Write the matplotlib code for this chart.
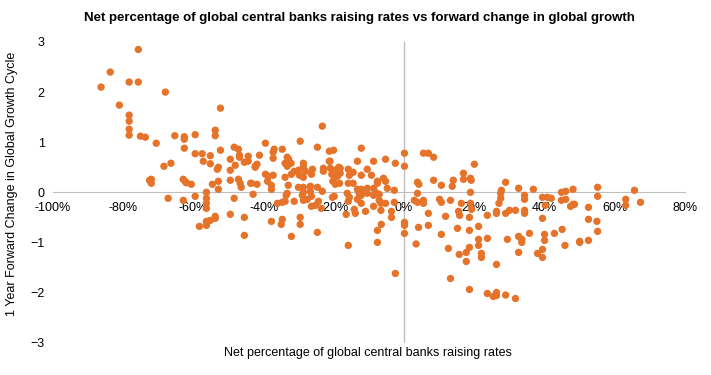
import matplotlib.pyplot as plt
from matplotlib.ticker import FuncFormatter

plt.rcParams['font.family'] = ['Liberation Sans', 'DejaVu Sans']

# net % of central banks raising rates (x, in %) and 1y forward change in growth cycle (y)
pct_raising = [
    -75.7, -83.7, -86.3, -78.3, -75.7, -68.0, -81.1, -78.3, -78.3, -78.3, -78.3, -75.1, -73.7,
    -70.6, -65.3, -66.4, -68.4, -72.0, -72.0, -72.5, -67.2,
    -52.3, -62.6, -62.6, -59.5, -53.8, -53.8, -62.6, -52.3, -59.5, -57.5, -55.2, -57.2, -55.2,
    -52.9, -53.2, -62.9, -62.3, -62.0, -60.6, -54.6, -52.9, -52.9, -49.5, -49.5, -49.5, -48.4,
    -47.2, -46.9, -46.9, -48.1, -45.5, -44.4, -44.4, -47.2, -46.7, -46.4, -43.5, -42.4, -43.0,
    -62.9, -59.5, -56.3, -56.3, -56.3, -56.3, -48.4, -49.5, -45.5, -45.5, -58.3, -56.3, -56.3,
    -55.2, -53.8, -53.8,
    -23.3, -29.6, -39.5, -24.7, -37.0, -34.7, -37.3, -41.2, -37.3, -41.9, -42.4, -33.3, -32.9,
    -33.9, -32.2, -33.3, -28.7, -28.7, -26.1, -21.3, -20.1, -21.3, -23.0, -23.0, -31.3, -30.1,
    -28.1, -32.1, -33.9, -29.8, -28.7, -26.4, -39.5, -38.7, -37.3, -38.9, -37.8, -37.8, -41.9,
    -43.7, -33.0, -30.1, -28.7, -26.7, -24.7, -23.3, -28.7, -26.7, -33.3, -33.6, -29.0, -26.4,
    -27.6, -28.7, -36.1, -34.7, -33.9, -31.3, -26.4, -25.3, -24.4, -23.6, -20.4, -37.8, -34.7,
    -35.0, -29.6, -29.6, -32.1, -24.7,
    -12.2, 0.1, 0.1, -13.3, -8.7, -5.3, -2.5, -21.1, -21.0, -20.0, -19.3, -20.6, -19.7, -19.0,
    -20.3, -19.6, -18.6, -18.2, -18.2, -18.4, -18.4, -19.9, -15.9, -15.6, -14.5, -15.9, -14.5,
    -16.2, -15.6, -15.9, -13.3, -12.2, -12.8, -12.2, -10.5, -12.2, -9.3, -10.5, -10.5, -13.3,
    -12.2, -11.0, -14.2, -13.9, -16.5, -8.7, -8.2, -8.7, -8.7, -7.6, -7.1, -7.1, -6.6, -6.6,
    -7.6, -5.9, -5.3, -4.8, -5.3, -3.6, -3.6, -2.8, -2.8, -6.5, -7.6, -7.6, -15.9, 0.1, 0.1,
    0.1, -2.5,
    5.5, 6.9, 8.4, 20.0, 16.9, 16.9, 18.9, 19.1, 8.4, 14.0, 13.7, 10.6, 3.8, 4.2, 3.8, 18.9,
    2.9, 3.8, 5.5, 5.5, 10.1, 10.6, 13.2, 16.3, 18.9, 19.2, 18.6, 6.9, 11.8, 15.5, 15.8, 23.7,
    6.9, 4.1, 15.2, 18.6, 21.2, 10.6, 21.2, 21.2, 23.7, 3.4, 12.6, 15.7, 17.7, 18.6, 22.0,
    22.0, 17.7, 13.2, 18.6, 23.7, 25.4,
    28.9, 32.6, 36.8, 27.7, 27.5, 27.5, 27.0, 26.3, 26.3, 28.9, 30.0, 31.7, 34.3, 34.3, 34.3,
    34.3, 39.4, 40.8, 41.9, 40.2, 39.4, 44.8, 46.0, 44.8, 46.0, 47.4, 48.1, 48.1, 29.4, 32.6,
    33.5, 33.5, 35.7, 32.6, 38.0, 39.4, 39.4, 40.0, 40.0, 42.8, 45.0, 45.8, 26.3, 26.3, 26.3,
    28.9, 31.7,
    55.1, 55.1, 65.6, 63.1, 63.1, 67.3, 48.5, 52.5, 52.5, 54.9, 55.1, 50.0, 50.0, 52.5,
]
fwd_change = [
    2.85, 2.40, 2.10, 2.20, 2.20, 2.00, 1.74, 1.54, 1.42, 1.26, 1.14, 1.12, 1.10,
    0.98, 1.13, 0.58, 0.52, 0.26, 0.18, 0.24, -0.12,
    1.68, 1.11, 1.06, 1.15, 1.24, 1.13, 0.88, 0.84, 0.77, 0.77, 0.73, 0.62, 0.57,
    0.50, 0.46, 0.26, 0.21, 0.19, 0.16, 0.16, 0.22, 0.06, 0.24, 0.44, 0.66, 0.90,
    0.86, 0.74, 0.70, 0.54, 0.60, 0.72, 0.62, 0.26, 0.18, 0.10, 0.18, 0.52, -0.04,
    -0.16, -0.08, 0.00, -0.12, -0.22, -0.32, -0.12, -0.44, -0.50, -0.86, -0.68, -0.66, -0.58,
    -0.56, -0.52, -0.48,
    1.32, 1.02, 0.98, 0.90, 0.86, 0.86, 0.80, 0.74, 0.68, 0.56, 0.50, 0.70, 0.66,
    0.58, 0.58, 0.52, 0.58, 0.52, 0.46, 0.82, 0.84, 0.62, 0.48, 0.42, 0.42, 0.44,
    0.42, 0.36, 0.30, 0.34, 0.30, 0.36, 0.36, 0.32, 0.34, 0.22, 0.14, 0.06, 0.16,
    0.18, 0.14, 0.10, 0.10, 0.12, 0.10, 0.02, 0.00, 0.02, -0.02, -0.06, -0.06, -0.08,
    -0.14, -0.16, -0.22, -0.20, -0.18, -0.18, -0.28, -0.26, -0.18, -0.32, -0.10, -0.58, -0.54,
    -0.64, -0.50, -0.64, -0.88, -0.80,
    0.88, 0.78, 0.52, 0.62, 0.62, 0.66, 0.58, 0.62, 0.48, 0.42, 0.45, 0.36, 0.30, 0.32,
    0.22, 0.16, 0.50, 0.38, 0.48, 0.38, 0.18, -0.08, 0.46, 0.34, 0.40, 0.18, 0.18,
    -0.02, -0.10, -0.18, 0.06, 0.06, -0.02, -0.06, 0.46, 0.34, 0.34, 0.08, -0.02, -0.14,
    -0.22, -0.38, -0.34, -0.42, -0.44, 0.08, 0.00, -0.06, -0.28, 0.18, -0.04, -0.16, -0.22, -0.36,
    0.22, 0.28, 0.22, 0.08, -0.22, -0.38, -0.50, 0.04, -0.20, -0.64, -0.76, -1.00, -1.06, -0.60, -0.66,
    -0.82, -1.62,
    0.78, 0.78, 0.70, 0.56, 0.38, 0.26, 0.28, 0.24, 0.24, 0.24, 0.12, 0.14, 0.20, 0.16, -0.02, 0.00,
    -0.16, -0.20, -0.16, -0.22, -0.14, -0.20, -0.16, -0.22, -0.22, -0.34, -0.50, -0.42, -0.48, -0.38, -0.46, -0.46,
    -0.66, -0.70, -0.72, -0.76, -0.68, -0.84, -0.94, -1.06, -0.92, -1.03, -1.12, -1.24, -1.20, -1.10, -1.22,
    -1.30, -1.38, -1.72, -1.94, -2.02, -2.08,
    0.20, 0.08, 0.06, 0.04, -0.02, -0.12, -0.22, -0.38, -0.42, -0.42, -0.36, -0.36, -0.06, -0.14, -0.36,
    -0.42, -0.10, -0.10, -0.12, -0.26, -0.52, 0.00, 0.02, -0.16, -0.14, -0.28, 0.06, -0.24, -0.94, -0.88,
    -0.94, -1.00, -0.82, -1.20, -1.22, -1.14, -1.30, -0.84, -0.96, -0.82, -0.74, -1.06, -1.44, -2.00, -2.06,
    -2.05, -2.12,
    0.10, -0.08, 0.04, -0.14, -0.26, -0.20, -0.24, -0.30, -0.54, -0.58, -0.78, -0.98, -1.00, -0.96,
]

fig = plt.figure(figsize=(7.11, 3.75), dpi=100)
ax = fig.add_axes([0.0745, 0.0864, 0.889, 0.8016])

ax.scatter(pct_raising, fwd_change, s=28, color='#E5732A', edgecolors='none', zorder=3)

ax.set_xlim(-100, 80)
ax.set_ylim(-3, 3)
ax.set_xticks(range(-100, 81, 20))
ax.set_yticks(range(-3, 4))
ax.xaxis.set_major_formatter(FuncFormatter(lambda v, p: f'{int(v)}%'))

for s in ['top', 'right', 'left']:
    ax.spines[s].set_visible(False)
ax.spines['bottom'].set_position(('data', 0))
ax.spines['bottom'].set_color('#BFBFBF')
ax.axvline(0, color='#BFBFBF', lw=1, zorder=1)
ax.tick_params(length=0, labelsize=9, colors='#000000')
ax.tick_params(axis='y', pad=6)
ax.tick_params(axis='x', pad=7)

fig.text(0.505, 0.952, 'Net percentage of global central banks raising rates vs forward change in global growth',
         ha='center', va='center', fontsize=9.5, fontweight='bold')
fig.text(0.518, 0.058, 'Net percentage of global central banks raising rates', ha='center', va='center', fontsize=9)
fig.text(0.017, 0.51, '1 Year Forward Change in Global Growth Cycle', ha='center', va='center',
         rotation=90, fontsize=9)

fig.savefig('out.png', dpi=100)
